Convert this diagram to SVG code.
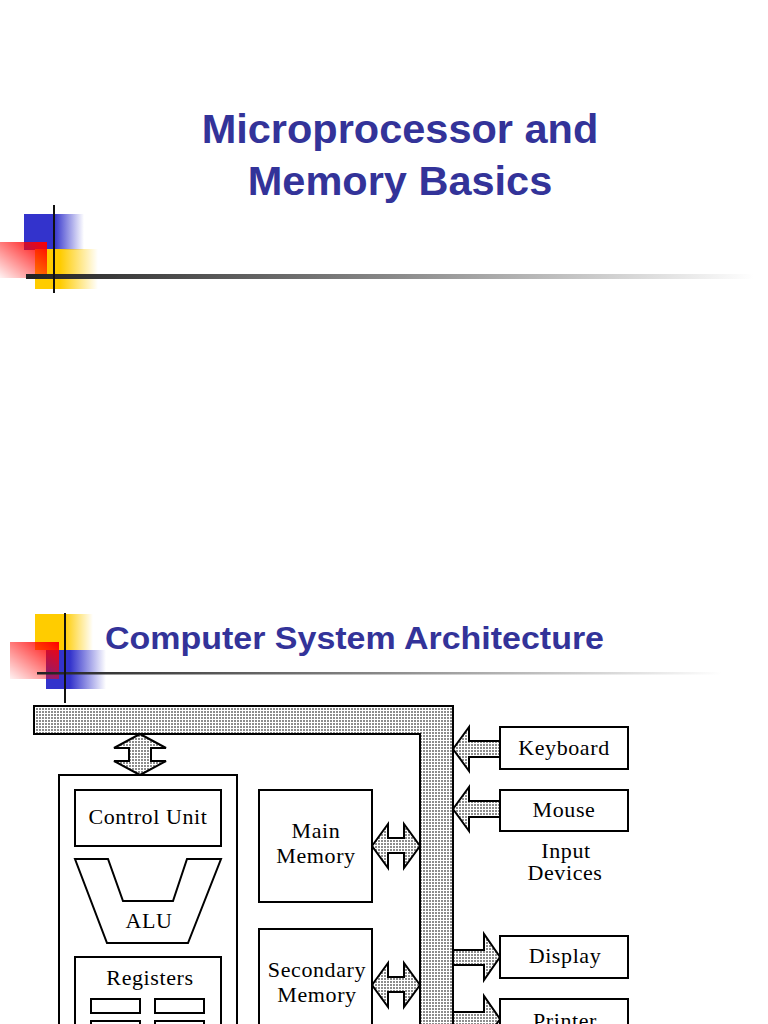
<svg xmlns="http://www.w3.org/2000/svg" width="768" height="1024" viewBox="0 0 768 1024">
<style>
.ttl{font-family:"Liberation Sans",Arial,sans-serif;font-weight:bold;fill:#333399}
.t{font-family:"Liberation Serif","Times New Roman",serif;font-size:22px;letter-spacing:0.6px;text-anchor:middle;fill:#000}
.box{fill:#fff;stroke:#000;stroke-width:2}
.pat{fill:url(#dots);stroke:#000;stroke-width:2;stroke-linejoin:miter}
</style>
<defs>
<pattern id="dots" width="3" height="3" patternUnits="userSpaceOnUse"><rect width="3" height="3" fill="#fff"/><rect width="2" height="2" fill="#8c8c8c"/></pattern>
<linearGradient id="blueA" x1="0" y1="0" x2="1" y2="0"><stop offset="0" stop-color="#3333cc"/><stop offset="0.5" stop-color="#3333cc"/><stop offset="1" stop-color="#3333cc" stop-opacity="0"/></linearGradient>
<linearGradient id="blueB" x1="0" y1="0" x2="1" y2="0"><stop offset="0" stop-color="#3333cc"/><stop offset="0.4" stop-color="#3333cc"/><stop offset="1" stop-color="#3333cc" stop-opacity="0"/></linearGradient>
<linearGradient id="yelA" x1="0" y1="0" x2="1" y2="0"><stop offset="0" stop-color="#ffcc00"/><stop offset="0.4" stop-color="#ffcc00"/><stop offset="1" stop-color="#ffcc00" stop-opacity="0"/></linearGradient>
<linearGradient id="yelB" x1="0" y1="0" x2="1" y2="0"><stop offset="0" stop-color="#ffcc00"/><stop offset="0.5" stop-color="#ffcc00"/><stop offset="1" stop-color="#ffcc00" stop-opacity="0"/></linearGradient>
<linearGradient id="red" x1="1" y1="0" x2="0" y2="1"><stop offset="0" stop-color="#ff0000"/><stop offset="1" stop-color="#ff0000" stop-opacity="0.05"/></linearGradient>
<linearGradient id="bar" x1="0" y1="0" x2="1" y2="0"><stop offset="0" stop-color="#222"/><stop offset="0.5" stop-color="#888"/><stop offset="1" stop-color="#fff"/></linearGradient>
</defs>
<rect width="768" height="1024" fill="#fff"/>

<g id="deco1">
<rect x="24" y="214" width="60" height="36" fill="url(#blueA)"/>
<rect x="35" y="249" width="63" height="40" fill="url(#yelA)"/>
<rect x="0" y="242" width="47" height="36" fill="url(#red)"/>
<rect x="26" y="274" width="728" height="5" fill="url(#bar)"/>
<line x1="54" y1="205" x2="54" y2="293" stroke="#111" stroke-width="2"/>
</g>
<g id="title1">
<text class="ttl" font-size="41.5" text-anchor="middle" x="400" y="143">Microprocessor and</text>
<text class="ttl" font-size="41.5" text-anchor="middle" x="400" y="195">Memory Basics</text>
</g>

<g id="deco2">
<rect x="35" y="614" width="58" height="36" fill="url(#yelB)"/>
<rect x="46" y="650" width="60" height="39" fill="url(#blueB)"/>
<rect x="10" y="642" width="49" height="37" fill="url(#red)"/>
<rect x="37" y="672" width="685" height="2.5" fill="url(#bar)"/>
<line x1="65" y1="613" x2="65" y2="703" stroke="#111" stroke-width="2"/>
</g>
<g id="title2">
<text class="ttl" font-size="32" x="105" y="649" textLength="499" lengthAdjust="spacingAndGlyphs">Computer System Architecture</text>
</g>

<g id="bus">
<polygon class="pat" points="34,706 453,706 453,1030 420,1030 420,734 34,734"/>
</g>

<g id="connectors">
<polygon class="pat" points="140,734 166,748 151,748 151,761 166,761 140,775 114,761 129,761 129,748 114,748"/>
<polygon class="pat" points="372,846 388,824 388,838 404,838 404,824 420,846 404,868 404,853 388,853 388,868"/>
<polygon class="pat" points="372,985 388,963 388,977 404,977 404,963 420,985 404,1007 404,992 388,992 388,1007"/>
<polygon class="pat" points="453,749 469,727 469,741 500,741 500,757 469,757 469,771"/>
<polygon class="pat" points="453,809 469,787 469,801 500,801 500,817 469,817 469,831"/>
<polygon class="pat" points="500,957 484,934 484,950 453,950 453,965 484,965 484,980"/>
<polygon class="pat" points="500,1019 484,996 484,1012 453,1012 453,1027 484,1027 484,1042"/>
</g>

<g id="cpu">
<rect class="box" x="59" y="775" width="178" height="270"/>
</g>
<g id="control-unit">
<rect class="box" x="75" y="790" width="146" height="56"/>
<text class="t" x="148" y="824">Control Unit</text>
</g>
<g id="alu">
<polygon class="box" points="75,859 108,859 123,901 173,901 187,859 221,859 188,943 107,943"/>
<text class="t" x="149" y="928">ALU</text>
</g>
<g id="registers">
<rect class="box" x="75" y="957" width="146" height="90"/>
<text class="t" x="150" y="985">Registers</text>
<rect class="box" x="91" y="999" width="49" height="14"/>
<rect class="box" x="155" y="999" width="49" height="14"/>
<rect class="box" x="91" y="1021" width="49" height="14"/>
<rect class="box" x="155" y="1021" width="49" height="14"/>
</g>
<g id="main-memory">
<rect class="box" x="259" y="790" width="113" height="112"/>
<text class="t" x="316" y="838">Main</text>
<text class="t" x="316" y="863">Memory</text>
</g>
<g id="secondary-memory">
<rect class="box" x="259" y="929" width="113" height="120"/>
<text class="t" x="317" y="977">Secondary</text>
<text class="t" x="317" y="1002">Memory</text>
</g>
<g id="keyboard">
<rect class="box" x="500" y="727" width="128" height="42"/>
<text class="t" x="564" y="755">Keyboard</text>
</g>
<g id="mouse">
<rect class="box" x="500" y="790" width="128" height="41"/>
<text class="t" x="564" y="817">Mouse</text>
</g>
<g id="input-devices">
<text class="t" x="566" y="858" font-size="21">Input</text>
<text class="t" x="565" y="880" font-size="21">Devices</text>
</g>
<g id="display">
<rect class="box" x="500" y="936" width="128" height="42"/>
<text class="t" x="565" y="963">Display</text>
</g>
<g id="printer">
<rect class="box" x="500" y="999" width="128" height="42"/>
<text class="t" x="565" y="1028">Printer</text>
</g>
</svg>
